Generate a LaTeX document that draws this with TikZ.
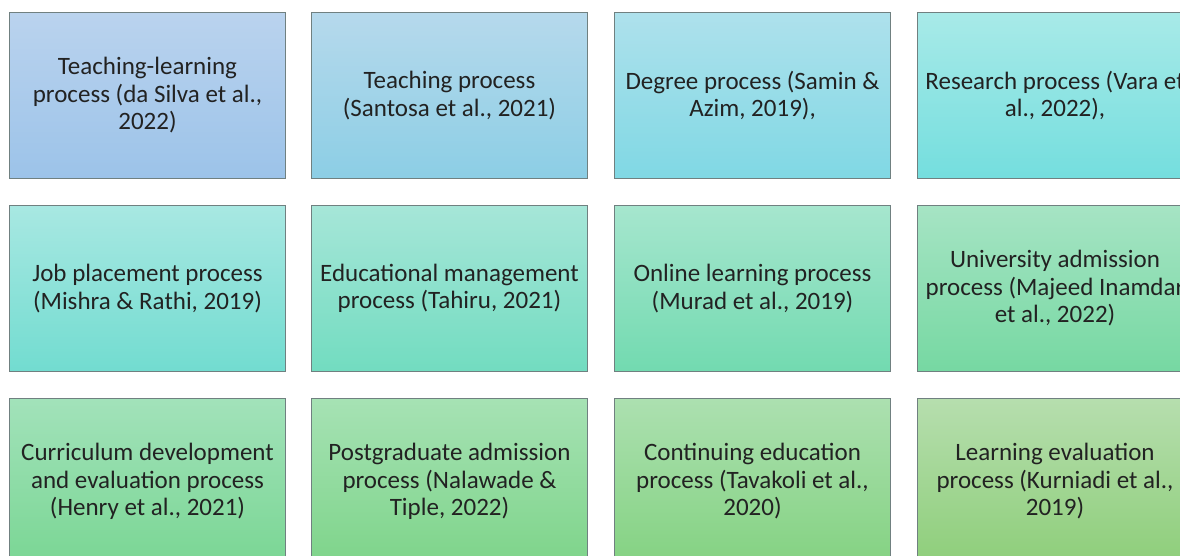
\documentclass[tikz,border=0pt]{standalone}
\usepackage{fontspec}
\setmainfont{Carlito}

\definecolor{edgegray}{RGB}{112,128,128}
\definecolor{inkgray}{RGB}{34,34,34}

\tikzset{
  procbox/.style={rectangle, draw=edgegray, line width=1pt, minimum width=276pt,
    minimum height=166pt, align=center, text=inkgray,
    font=\fontsize{25}{27.5}\selectfont},
  shadeboth/.style 2 args={top color={#1}, bottom color={#2}}
}

\begin{document}
\begin{tikzpicture}[x=1pt, y=-1pt]
  \clip (0,0) rectangle (1180,556);
  \fill[white] (0,0) rectangle (1180,556);

  % first row -- the blue end of the colour run
  \node[procbox, shadeboth={rgb,255:red,186;green,211;blue,238}{rgb,255:red,156;green,195;blue,233}] (teachlearn) at (147.5,95.5)
    {Teaching-learning\\process (da Silva et al.,\\2022)};
  \node[procbox, shadeboth={rgb,255:red,182;green,217;blue,236}{rgb,255:red,140;green,206;blue,229}] (teaching) at (449.5,95.5)
    {Teaching process\\(Santosa et al., 2021)};
  \node[procbox, shadeboth={rgb,255:red,174;green,225;blue,236}{rgb,255:red,128;green,216;blue,228}] (degree) at (752.5,95.5)
    {Degree process (Samin \&\\Azim, 2019),};
  \node[procbox, shadeboth={rgb,255:red,168;green,234;blue,232}{rgb,255:red,116;green,222;blue,222}] (research) at (1055,95.5)
    {Research process (Vara et\\al., 2022),};

  % second row
  \node[procbox, shadeboth={rgb,255:red,168;green,232;blue,226}{rgb,255:red,114;green,220;blue,208}] (jobplace) at (147.5,288.5)
    {Job placement process\\(Mishra \& Rathi, 2019)};
  \node[procbox, shadeboth={rgb,255:red,166;green,230;blue,216}{rgb,255:red,114;green,220;blue,192}] (edumanage) at (449.5,288.5)
    {Educational management\\process (Tahiru, 2021)};
  \node[procbox, shadeboth={rgb,255:red,166;green,230;blue,206}{rgb,255:red,114;green,218;blue,176}] (online) at (752.5,288.5)
    {Online learning process\\(Murad et al., 2019)};
  \node[procbox, shadeboth={rgb,255:red,166;green,228;blue,196}{rgb,255:red,118;green,216;blue,162}] (uniadmit) at (1055,288.5)
    {University admission\\process (Majeed Inamdar\\et al., 2022)};

  % third row runs off the bottom edge, as in the source figure
  \node[procbox, shadeboth={rgb,255:red,162;green,226;blue,186}{rgb,255:red,122;green,214;blue,148}] (curriculum) at (147.5,481.5)
    {Curriculum development\\and evaluation process\\(Henry et al., 2021)};
  \node[procbox, shadeboth={rgb,255:red,166;green,226;blue,180}{rgb,255:red,126;green,212;blue,138}] (pgadmit) at (449.5,481.5)
    {Postgraduate admission\\process (Nalawade \&\\Tiple, 2022)};
  \node[procbox, shadeboth={rgb,255:red,172;green,224;blue,176}{rgb,255:red,132;green,210;blue,130}] (continuing) at (752.5,481.5)
    {Continuing education\\process (Tavakoli et al.,\\2020)};
  \node[procbox, shadeboth={rgb,255:red,182;green,222;blue,174}{rgb,255:red,142;green,206;blue,122}] (evaluation) at (1055,481.5)
    {Learning evaluation\\process (Kurniadi et al.,\\2019)};
\end{tikzpicture}
\end{document}
